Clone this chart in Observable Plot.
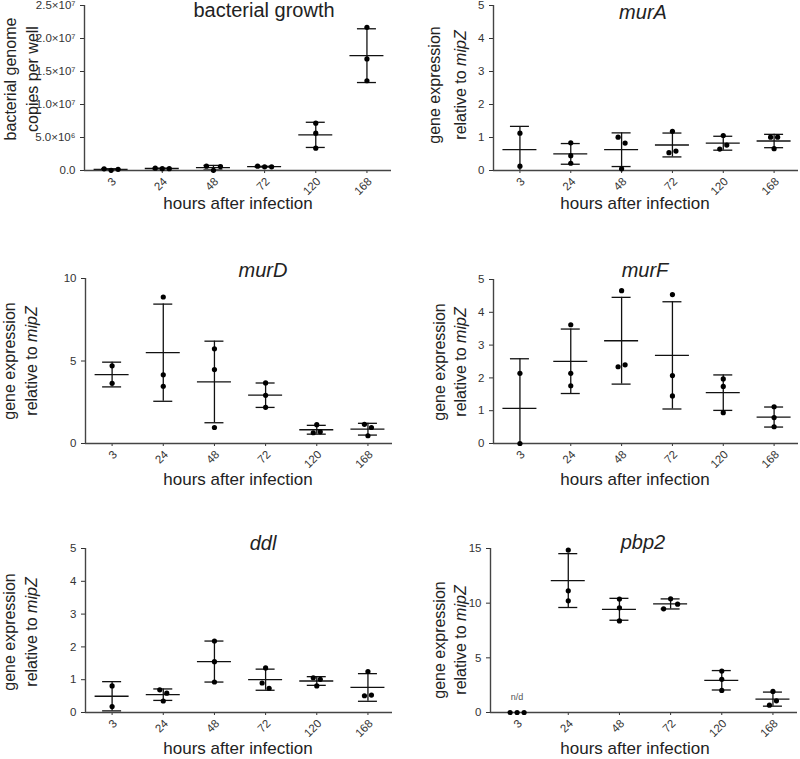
<!DOCTYPE html>
<html><head><meta charset="utf-8">
<script src="https://cdn.jsdelivr.net/npm/d3@7"></script>
<script src="https://cdn.jsdelivr.net/npm/@observablehq/plot@0.6"></script>
<style>
body{margin:0;background:#fff;}
#wrap{position:relative;width:800px;height:759px;overflow:hidden;font-family:"Liberation Sans",Arial,sans-serif;}
.panel{position:absolute;}
</style>
</head><body><div id="wrap"></div>
<script>
// ---- data (replicates per time point, in plotted order) ----
const hours = ["3", "24", "48", "72", "120", "168"];
const growthCopies = [[2.5e5, 0.3e5, 1.8e5], [3.5e5, 2.8e5, 2.8e5], [6.5e5, 0.3e5, 6.0e5], [6.5e5, 5.5e5, 5.5e5], [7.17e6, 5.65e6, 3.38e6], [2.17e7, 1.69e7, 1.36e7]];
const murA = [[1.13, 0.13], [0.84, 0.45, 0.22], [1.01, 0.83, 0.05], [1.19, 0.54, 0.59], [1.06, 0.65, 0.77], [1.01, 1.01, 0.66]];
const murD = [[4.71, 3.65], [8.88, 4.16, 3.47], [5.74, 4.48, 0.97], [3.67, 2.92, 2.19], [0.65, 1.14, 0.71], [1.16, 0.97, 0.47]];
const murF = [[2.14, 0.0], [3.62, 2.14, 1.76], [4.66, 2.34, 2.40], [4.54, 2.07, 1.45], [1.97, 1.74, 0.94], [1.12, 0.79, 0.51]];
const ddl = [[0.81, 0.18], [0.69, 0.59, 0.35], [2.18, 1.55, 0.93], [1.36, 0.90, 0.74], [1.06, 1.01, 0.81], [1.25, 0.51, 0.53]];
const pbp2 = [[0, 0, 0], [14.86, 11.13, 10.21], [10.37, 9.57, 8.38], [9.48, 10.40, 9.91], [3.79, 3.03, 2.02], [1.93, 0.67, 1.07]];
const pbp2NotDetected = ["3"];
const growthTicks = [0, 5e6, 1e7, 1.5e7, 2e7, 2.5e7];
const expr5Ticks = [0, 1, 2, 3, 4, 5];
const murDTicks = [0, 5, 10];
const pbp2Ticks = [0, 5, 10, 15];
const xLabel = "hours after infection";

// ---- helpers ----
const sup = {6: "\u2076", 7: "\u2077"};
const sci = d => {
  if (d === 0) return "0.0";
  const e = Math.floor(Math.log10(d) + 1e-9);
  return (d / 10 ** e).toFixed(1) + "\u00d710" + sup[e];
};
const geneLabel = [[{t: "gene expression"}], [{t: "relative to "}, {t: "mipZ", i: true}]];

const panels = [
  {title: "bacterial growth", italic: false, groups: growthCopies, yTicks: growthTicks, fmt: sci,
   ylab: [[{t: "bacterial genome"}], [{t: "copies per well"}]],
   box: {left: 0, top: 0, height: 220, ml: 84, mr: 9, mt: 5, mb: 50},
   lab: {tx: 264, ty: 17, yx: [11, 33], yc: 79, hx: 238, hy: 209}},
  {title: "murA", italic: true, groups: murA, yTicks: expr5Ticks, fmt: d => d, ylab: geneLabel,
   box: {left: 400, top: 0, height: 220, ml: 93, mr: 2, mt: 5, mb: 50},
   lab: {tx: 243, ty: 19, yx: [35, 61], yc: 85, hx: 235, hy: 209}},
  {title: "murD", italic: true, groups: murD, yTicks: murDTicks, fmt: d => d, ylab: geneLabel,
   box: {left: 0, top: 230, height: 260, ml: 85, mr: 8, mt: 48, mb: 47},
   lab: {tx: 263, ty: 47, yx: [10, 32], yc: 131, hx: 238, hy: 255}},
  {title: "murF", italic: true, groups: murF, yTicks: expr5Ticks, fmt: d => d, ylab: geneLabel,
   box: {left: 400, top: 230, height: 260, ml: 93, mr: 2, mt: 49, mb: 47},
   lab: {tx: 245, ty: 47, yx: [40, 61], yc: 132, hx: 235, hy: 255}},
  {title: "ddl", italic: true, groups: ddl, yTicks: expr5Ticks, fmt: d => d, ylab: geneLabel,
   box: {left: 0, top: 490, height: 269, ml: 85, mr: 8, mt: 58, mb: 47},
   lab: {tx: 263, ty: 60, yx: [10, 32], yc: 142, hx: 238, hy: 264}},
  {title: "pbp2", italic: true, groups: pbp2, yTicks: pbp2Ticks, fmt: d => d, ylab: geneLabel, nd: pbp2NotDetected,
   box: {left: 400, top: 490, height: 269, ml: 90, mr: 3, mt: 58, mb: 47},
   lab: {tx: 243, ty: 59, yx: [40, 61], yc: 150, hx: 235, hy: 264}}
];

// horizontal spreading of overlapping replicate dots (pixel offsets)
function spread(values, pxPerUnit, spacing = 7, thresh = 6.5) {
  const order = values.map((v, k) => k).sort((a, b) => values[b] - values[a]);
  const off = values.map(() => 0);
  let cluster = [order[0]];
  const flush = () => {
    const c = cluster.slice().sort((a, b) => a - b);
    c.forEach((k, j) => off[k] = (j - (c.length - 1) / 2) * spacing);
  };
  for (let m = 1; m < order.length; m++) {
    if ((values[order[m - 1]] - values[order[m]]) * pxPerUnit < thresh) cluster.push(order[m]);
    else { flush(); cluster = [order[m]]; }
  }
  flush();
  return off;
}

const xDomain = [-0.52, 5.48];
const ink = "#111";
const axisInk = "#444";
const fontStack = "'Liberation Sans', Arial, sans-serif";
const wrap = document.getElementById("wrap");

for (const p of panels) {
  const b = p.box;
  const W = 400;
  const yMax = p.yTicks[p.yTicks.length - 1];
  const bandPx = (W - b.ml - b.mr) / (xDomain[1] - xDomain[0]);
  const pxPerUnit = (b.height - b.mt - b.mb) / yMax;
  const points = [];
  const stats = [];
  p.groups.forEach((vals, i) => {
    const off = spread(vals, pxPerUnit);
    vals.forEach((v, k) => points.push({i, v, x: i + off[k] / bandPx}));
    const mean = d3.mean(vals), sd = d3.deviation(vals);
    if (mean > 0) stats.push({i, mean, lo: mean - sd, hi: mean + sd});
  });
  const meanHalf = 17 / bandPx, capHalf = 9.5 / bandPx;
  const ndData = (p.nd || []).map(h => ({i: hours.indexOf(h), label: "n/d"}));
  const hourRows = hours.map((h, i) => ({i, h}));

  const svg = Plot.plot({
    width: W, height: b.height,
    marginLeft: b.ml, marginRight: b.mr, marginTop: b.mt, marginBottom: b.mb,
    style: {fontFamily: fontStack, fontSize: "11.5px", color: "#333", background: "transparent", overflow: "visible"},
    x: {domain: xDomain, ticks: [0, 1, 2, 3, 4, 5], tickFormat: () => "", tickSize: 3, label: null},
    y: {domain: [0, yMax], ticks: p.yTicks, tickFormat: p.fmt, tickSize: 4, label: null},
    marks: [
      Plot.ruleX(stats, {x: "i", y1: d => Math.max(0, d.lo), y2: "hi", stroke: ink, strokeWidth: 1.3}),
      Plot.ruleY(stats, {y: "mean", x1: d => d.i - meanHalf, x2: d => d.i + meanHalf, stroke: ink, strokeWidth: 1.3}),
      Plot.ruleY(stats, {y: "hi", x1: d => d.i - capHalf, x2: d => d.i + capHalf, stroke: ink, strokeWidth: 1.3}),
      Plot.ruleY(stats.filter(d => d.lo > 0), {y: "lo", x1: d => d.i - capHalf, x2: d => d.i + capHalf, stroke: ink, strokeWidth: 1.3}),
      Plot.ruleX([xDomain[0]], {stroke: axisInk, strokeWidth: 1.4}),
      Plot.ruleY([0], {stroke: axisInk, strokeWidth: 1.4}),
      Plot.dot(points, {x: "x", y: "v", r: 2.6, fill: "#000", stroke: "none"}),
      Plot.text(hourRows, {x: "i", y: () => 0, text: "h", rotate: -45, textAnchor: "end", dx: 3, dy: 9, fontSize: 11.5, fill: "#333"}),
      Plot.text(ndData, {x: "i", y: () => 0, text: "label", dy: -15, fontSize: 9, fill: "#555"})
    ]
  });

  const div = document.createElement("div");
  div.className = "panel";
  div.style.left = b.left + "px";
  div.style.top = b.top + "px";
  div.appendChild(svg);
  wrap.appendChild(div);

  const s = d3.select(svg);
  const g = s.append("g").attr("fill", "#222").style("font-family", fontStack);
  // title
  g.append("text").attr("x", p.lab.tx).attr("y", p.lab.ty).attr("text-anchor", "middle")
    .attr("font-size", 20).attr("font-style", p.italic ? "italic" : "normal").text(p.title);
  // x label
  g.append("text").attr("x", p.lab.hx).attr("y", p.lab.hy).attr("text-anchor", "middle")
    .attr("font-size", 17).text(xLabel);
  // y label (two lines)
  p.ylab.forEach((line, li) => {
    const t = g.append("text")
      .attr("transform", `translate(${p.lab.yx[li]},${p.lab.yc}) rotate(-90)`)
      .attr("text-anchor", "middle").attr("dy", "0.32em").attr("font-size", 16);
    line.forEach(part => t.append("tspan").attr("font-style", part.i ? "italic" : "normal").text(part.t));
  });
}
</script>
</body></html>
